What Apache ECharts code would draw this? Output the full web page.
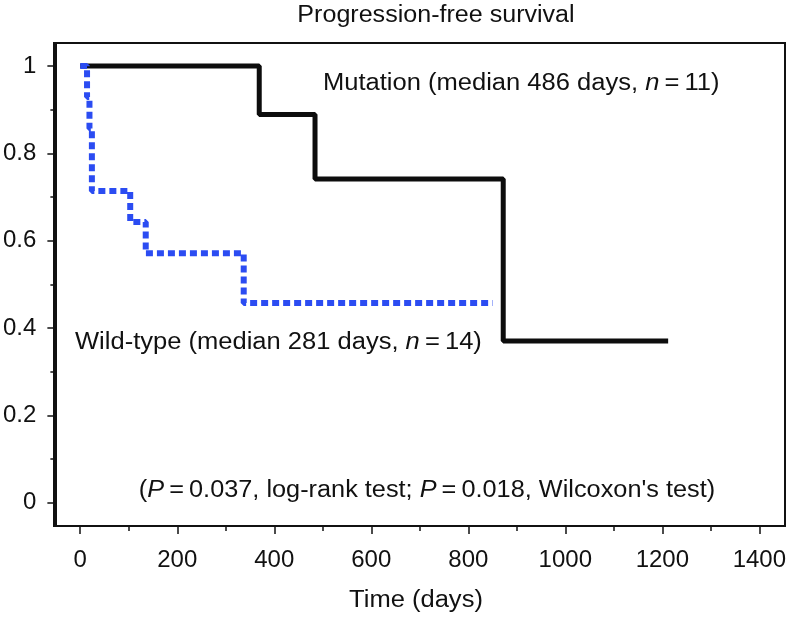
<!DOCTYPE html>
<html>
<head>
<meta charset="utf-8">
<script src="https://cdn.jsdelivr.net/npm/echarts@6/dist/echarts.min.js"></script>
<style>
  html, body { margin: 0; padding: 0; background: #fff; }
  #main { width: 789px; height: 622px; }
</style>
</head>
<body>
<div id="main"></div>
<script>
// Kaplan-Meier steps (time in days, survival fraction)
var mutTimes = [0, 369, 484, 872, 1212];
var mutSurv  = [1, 0.889, 0.741, 0.370, 0.370];
var wildTimes = [0, 14, 19, 24, 103, 135, 337, 850];
var wildSurv  = [1, 0.929, 0.857, 0.714, 0.643, 0.571, 0.457, 0.457];

var xTicks = [0, 200, 400, 600, 800, 1000, 1200, 1400];
var xMinor = [100, 300, 500, 700, 900, 1100, 1300];
var yTicks = [0, 0.2, 0.4, 0.6, 0.8, 1];
var yMinor = [0.1, 0.3, 0.5, 0.7, 0.9];

// the box is a little wider than the tick range
var xRange = [-51.3, 1447.8];
var yRange = [-0.0534, 1.0527];

function pairs(xs, ys) {
  return xs.map(function (x, i) { return [x, ys[i]]; });
}

var font = 'Liberation Sans, Arial, sans-serif';
var myChart = echarts.init(document.getElementById('main'), null, { renderer: 'canvas' });

var ital = { i: { fontStyle: 'italic', fontSize: 23, fontFamily: font, fill: '#111' } };
function label(txt, x, y, align, sx) {
  return { type: 'text', x: x, y: y, scaleX: sx, z: 20,
    style: { text: txt, font: '23px ' + font, fill: '#111',
      textAlign: align, textVerticalAlign: 'middle', rich: ital } };
}

function axis(pos, range, ticks, len, withLabels, fmt, margin) {
  return {
    type: 'value',
    position: pos,
    min: range[0],
    max: range[1],
    axisLine: { show: true, onZero: false, lineStyle: { color: '#111', width: 2 } },
    axisTick: { show: true, inside: false, length: len, customValues: ticks,
      lineStyle: { color: '#111', width: 1.5 } },
    splitLine: { show: false },
    axisLabel: withLabels ? { show: true, customValues: ticks, color: '#111', fontSize: 24,
      fontFamily: font, margin: margin, formatter: fmt } : { show: false }
  };
}

var option = {
  backgroundColor: '#fff',
  animation: false,
  grid: { left: 54, right: 4, top: 43, bottom: 96 },
  xAxis: [
    axis('bottom', xRange, xTicks, 8, true, function (v) { return String(v); }, 22),
    axis('bottom', xRange, xMinor, 5, false)
  ],
  yAxis: [
    axis('left', yRange, yTicks, 8, true, function (v) { return String(Math.round(v * 10) / 10); }, 19),
    axis('left', yRange, yMinor, 5, false)
  ],
  series: [
    {
      name: 'Mutation',
      type: 'line',
      step: 'end',
      showSymbol: false,
      data: pairs(mutTimes, mutSurv),
      lineStyle: { color: '#0d0d0d', width: 5 },
      z: 2
    },
    {
      name: 'Wild-type',
      type: 'line',
      step: 'end',
      showSymbol: false,
      data: pairs(wildTimes, wildSurv),
      lineStyle: { color: '#2b4cf2', width: 6, type: [7, 4], cap: 'butt' },
      z: 3
    }
  ],
  graphic: [
    // plot frame
    { type: 'rect', shape: { x: 54, y: 43, width: 731, height: 483 },
      style: { fill: null, stroke: '#111', lineWidth: 2 }, z: 10 },
    label('Progression-free survival', 436, 16, 'center', 1.09),
    label('Time (days)', 416, 601, 'center', 1.11),
    label('Mutation (median 486 days, {i|n}\u2009=\u200911)', 323, 84, 'left', 1.11),
    label('Wild-type (median 281 days, {i|n}\u2009=\u200914)', 75, 343, 'left', 1.11),
    label('({i|P}\u2009=\u20090.037, log-rank test; {i|P}\u2009=\u20090.018, Wilcoxon\'s test)', 427, 491, 'center', 1.1)
  ]
};

myChart.setOption(option);
</script>
</body>
</html>
